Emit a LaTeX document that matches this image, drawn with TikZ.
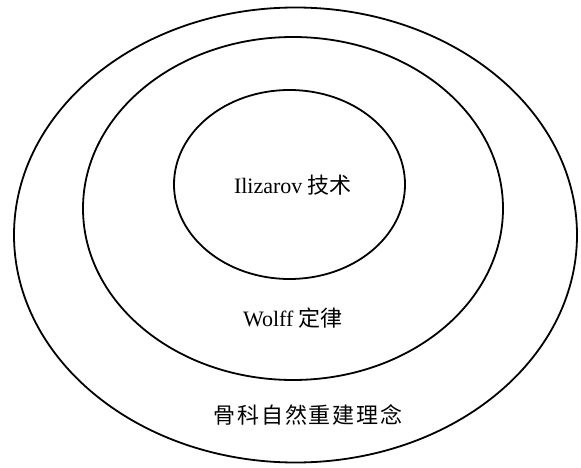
\documentclass[tikz,border=0pt]{standalone}
\usepackage{fontspec}
\setmainfont{Liberation Serif}
\newfontfamily\cjk{Noto Sans CJK SC}
\usetikzlibrary{shapes.geometric}
\tikzset{
  ring/.style={draw=black, line width=1.8pt, ellipse, inner sep=0pt, fill=none},
  lbl/.style={font=\fontsize{22}{26}\selectfont, text=black, inner sep=0pt}
}
\begin{document}
\begin{tikzpicture}[x=1pt,y=-1pt]
\useasboundingbox[fill=white] (0,0) rectangle (581,468);
\node[ring, minimum width=563pt, minimum height=455pt] (outer) at (295.5,235) {};
\node[ring, minimum width=420pt, minimum height=343pt] (middle) at (293,208.5) {};
\node[ring, minimum width=231pt, minimum height=189pt] (inner) at (289.5,184.5) {};
\node[lbl] (t1) at (293,185) {Ilizarov {\cjk 技术}};
\node[lbl] (t2) at (293,318) {Wolff {\cjk 定律}};
\node[lbl] (t3) at (308,415) {\cjk\addfontfeature{LetterSpace=8}骨科自然重建理念};
\end{tikzpicture}
\end{document}
